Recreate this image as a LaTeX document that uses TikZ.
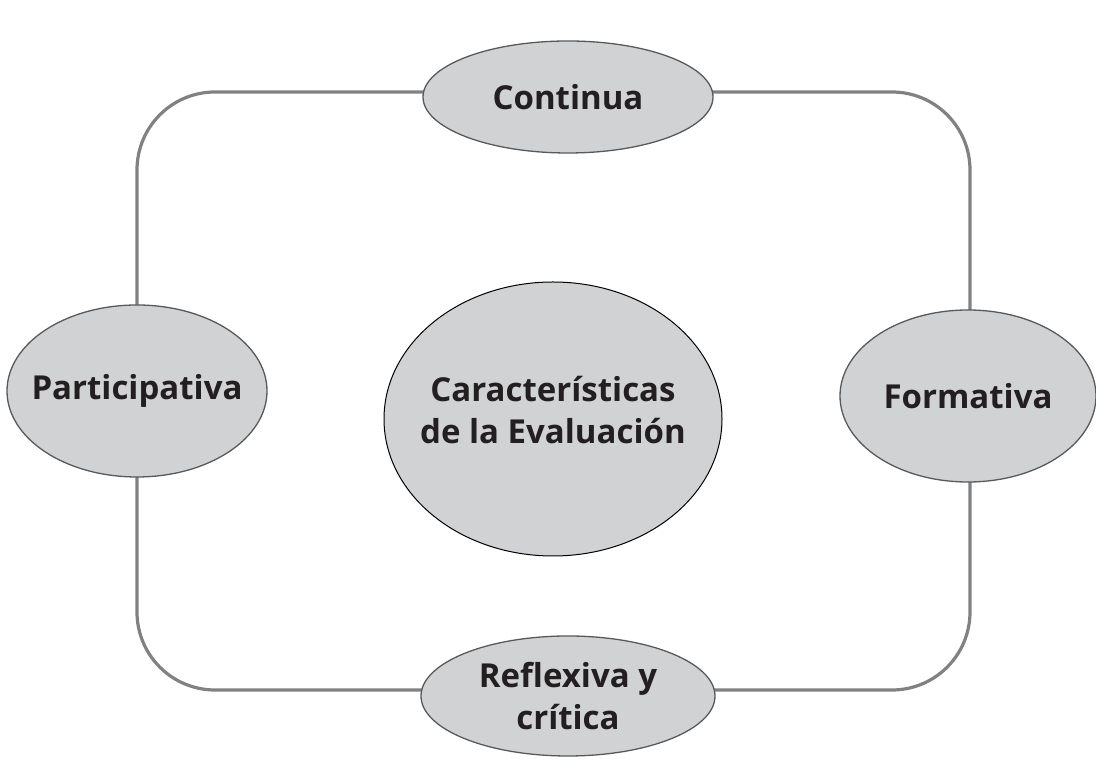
\documentclass[tikz,border=0pt]{standalone}
\usepackage{fontspec}
\setmainfont{Open Sans}
\usetikzlibrary{shapes.geometric}
\definecolor{ellfill}{HTML}{D1D2D4}
\definecolor{ellline}{HTML}{58595B}
\definecolor{frameline}{HTML}{808183}
\definecolor{txt}{HTML}{231F20}
\tikzset{
  oval/.style={ellipse, fill=ellfill, draw=ellline, line width=1.3pt, inner sep=0pt},
  lbl/.style={text=txt, font=\fontsize{33}{42}\selectfont\bfseries, align=center, inner sep=0pt},
  frame/.style={draw=frameline, line width=3.2pt, rounded corners=78pt}
}
\begin{document}
\begin{tikzpicture}[x=1pt,y=1pt]
\useasboundingbox (0,0) rectangle (1096,768);
\coordinate (tl) at (137,676);
\coordinate (br) at (970,78);
\draw[frame] (tl) rectangle (br);
\node[oval, minimum width=290pt, minimum height=112pt] (cont) at (568,671) {};
\node[oval, minimum width=260pt, minimum height=172pt] (part) at (137,377) {};
\node[oval, minimum width=256pt, minimum height=172pt] (form) at (968,372) {};
\node[oval, minimum width=294pt, minimum height=120pt] (refl) at (568,72) {};
\node[oval, draw=black, line width=1pt, minimum width=338pt, minimum height=274pt] (cent) at (553,349) {};
\node[lbl] (contT) at (cont) {Continua};
\node[lbl] (partT) at (part) {Participativa};
\node[lbl] (formT) at (form) {Formativa};
\node[lbl] (reflT) at (refl) {Reflexiva y\\crítica};
\node[lbl] (centT) at ([yshift=9pt]cent.center) {Características\\de la Evaluación};
\end{tikzpicture}
\end{document}
